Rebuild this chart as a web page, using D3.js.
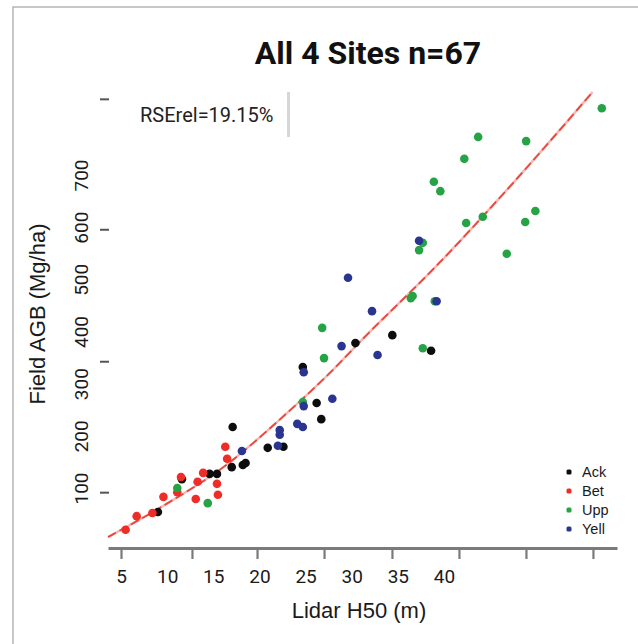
<!DOCTYPE html>
<html>
<head>
<meta charset="utf-8">
<script src="https://cdn.jsdelivr.net/npm/d3@7"></script>
<style>
  html, body { margin: 0; padding: 0; background: #fff; }
  svg { display: block; }
</style>
</head>
<body>
<svg id="chart" width="638" height="644"></svg>
<script>
// ---------- data (Lidar H50 in m, Field AGB in Mg/ha) ----------
const sites = ["Ack", "Bet", "Upp", "Yell"];
const siteColors = ["#111111", "#ee2d26", "#26a344", "#2b3591"];

const ackH50 = [9.0, 11.6, 14.6, 15.4, 17.0, 18.2, 18.5, 17.1, 20.9, 22.6, 24.7, 26.2, 26.7, 30.4, 34.4, 38.6];
const ackAGB = [54, 117, 127, 127, 140, 144, 148, 217, 177, 179, 332, 263, 232, 378, 393, 363];

const betH50 = [5.5, 6.7, 8.4, 9.6, 11.1, 11.5, 13.3, 13.1, 13.9, 15.4, 15.5, 16.3, 16.5];
const betAGB = [20, 46, 52, 83, 92, 121, 112, 79, 129, 108, 87, 179, 156];

const uppH50 = [11.1, 14.4, 24.7, 26.8, 27.0, 36.6, 36.4, 39.0, 37.7, 37.3, 37.7, 38.9, 39.6, 42.2, 42.4, 43.7, 44.2, 46.8, 48.8, 48.9, 49.9, 57.1];
const uppAGB = [100, 71, 265, 407, 349, 468, 464, 458, 368, 556, 570, 687, 669, 731, 608, 773, 620, 549, 610, 765, 631, 828];

const yellH50 = [18.1, 22.0, 22.2, 22.2, 24.1, 24.7, 24.8, 24.8, 27.9, 28.9, 32.8, 29.6, 32.2, 39.2, 37.3];
const yellAGB = [171, 181, 211, 202, 223, 217, 257, 322, 271, 372, 355, 503, 439, 458, 574];

// fitted curve
const fitH50 = [3.6, 9.5, 16.1, 23.0, 27.6, 31.1, 39.3, 47.5, 56.1];
const fitAGB = [6, 65, 140, 244, 320, 384, 528, 685, 859];

// axis tick marks and tick labels (they are not aligned in the original)
const xTickMarks = [5, 12.69, 19.74, 27.0, 34.36, 41.62, 48.88, 56.14];
const xTickLabels = [5, 10, 15, 20, 25, 30, 35, 40];
const yTickMarks = [92, 343, 596, 846];
const yTickLabels = [100, 200, 300, 400, 500, 600, 700];

const titleText = "All 4 Sites n=67";
const rseText = "RSErel=19.15%";
const xTitle = "Lidar H50 (m)";
const yTitle = "Field AGB (Mg/ha)";

// ---------- drawing ----------
const svg = d3.select("#chart");
const FONT = "Roboto, 'Liberation Sans', sans-serif";
const TFONT = "'Liberation Sans', Arial, sans-serif";

// frame
svg.append("rect").attr("x", 13).attr("y", 7).attr("width", 640).attr("height", 660)
  .attr("fill", "none").attr("stroke", "#b5b5b5").attr("stroke-width", 1.5);

const xBase = d3.scaleLinear().domain([5, 40]).range([121, 444]);
const x = xBase.copy().domain([xBase.invert(108), xBase.invert(617)]).range([108, 617]);
const y = d3.scaleLinear().domain([100, 700]).range([488, 175]);

// x axis: tick marks
const gxMarks = svg.append("g").attr("transform", "translate(0,548)")
  .call(d3.axisBottom(x).tickValues(xTickMarks).tickFormat("").tickSize(11).tickSizeOuter(0));
gxMarks.select(".domain").attr("stroke", "#7a7a7a").attr("stroke-width", 3.2);
gxMarks.selectAll(".tick line").attr("stroke", "#7a7a7a").attr("stroke-width", 2.2);

// x axis: labels
const gxLab = svg.append("g").attr("transform", "translate(0,548)")
  .call(d3.axisBottom(x).tickValues(xTickLabels).tickSize(0).tickPadding(0));
gxLab.select(".domain").remove();
gxLab.selectAll(".tick text").attr("y", 35).attr("dy", 0)
  .attr("font-family", FONT).attr("font-size", 19).attr("fill", "#1a1a1a");

// y axis: tick marks
const gyMarks = svg.append("g").attr("transform", "translate(109,0)")
  .call(d3.axisLeft(y).tickValues(yTickMarks).tickFormat("").tickSize(9).tickSizeOuter(0));
gyMarks.select(".domain").remove();
gyMarks.selectAll(".tick line").attr("stroke", "#555").attr("stroke-width", 2);

// y axis: labels (rotated)
const gyLab = svg.append("g").attr("transform", "translate(88,0)")
  .call(d3.axisLeft(y).tickValues(yTickLabels).tickSize(0).tickPadding(0));
gyLab.select(".domain").remove();
gyLab.selectAll(".tick text").attr("x", 0).attr("y", 0).attr("dy", 0)
  .attr("transform", "rotate(-90)").attr("text-anchor", "middle")
  .attr("font-family", FONT).attr("font-size", 19).attr("fill", "#1a1a1a");

// fitted line
const fitData = fitH50.map((h, i) => [h, fitAGB[i]]);
const line = d3.line().x(d => x(d[0])).y(d => y(d[1])).curve(d3.curveMonotoneX);
svg.append("path").datum(fitData).attr("d", line)
  .attr("fill", "none").attr("stroke", "#f6b7b2").attr("stroke-width", 2.4);
svg.append("path").datum(fitData).attr("d", line)
  .attr("fill", "none").attr("stroke", "#e9473d").attr("stroke-width", 1.8)
  .attr("stroke-dasharray", "9 4");

// points
const defs = svg.append("defs");
defs.append("filter").attr("id", "soft").append("feGaussianBlur").attr("stdDeviation", 0.5);

const seriesH = [ackH50, betH50, uppH50, yellH50];
const seriesA = [ackAGB, betAGB, uppAGB, yellAGB];
sites.forEach((s, k) => {
  const pts = seriesH[k].map((h, i) => [h, seriesA[k][i]]);
  svg.append("g").attr("filter", "url(#soft)")
    .selectAll("circle").data(pts).join("circle")
    .attr("cx", d => x(d[0])).attr("cy", d => y(d[1])).attr("r", 4.3)
    .attr("fill", siteColors[k]);
});

// legend
const leg = svg.append("g");
sites.forEach((s, k) => {
  const yy = 472 + k * 19;
  leg.append("rect").attr("x", 566.5).attr("y", yy - 2.5).attr("width", 5).attr("height", 5)
    .attr("rx", 1.5).attr("fill", siteColors[k]).attr("filter", "url(#soft)");
  leg.append("text").attr("x", 582).attr("y", yy + 5).text(s)
    .attr("font-family", TFONT).attr("font-size", 14.5).attr("fill", "#1a1a1a");
});

// title
svg.append("text").attr("x", 368).attr("y", 64).attr("text-anchor", "middle")
  .attr("font-family", FONT).attr("font-weight", "bold").attr("font-size", 32)
  .attr("fill", "#111").text(titleText);

// RSE annotation
svg.append("text").attr("x", 140).attr("y", 122)
  .attr("font-family", FONT).attr("font-size", 20).attr("fill", "#222").text(rseText);
svg.append("rect").attr("x", 287).attr("y", 92).attr("width", 3).attr("height", 45)
  .attr("fill", "#d6d6d6");

// axis titles
svg.append("text").attr("x", 359).attr("y", 618).attr("text-anchor", "middle")
  .attr("font-family", TFONT).attr("font-size", 22).attr("fill", "#1a1a1a").text(xTitle);
svg.append("text").attr("transform", "translate(45,314) rotate(-90)").attr("text-anchor", "middle")
  .attr("font-family", TFONT).attr("font-size", 22).attr("fill", "#1a1a1a").text(yTitle);
</script>
</body>
</html>
